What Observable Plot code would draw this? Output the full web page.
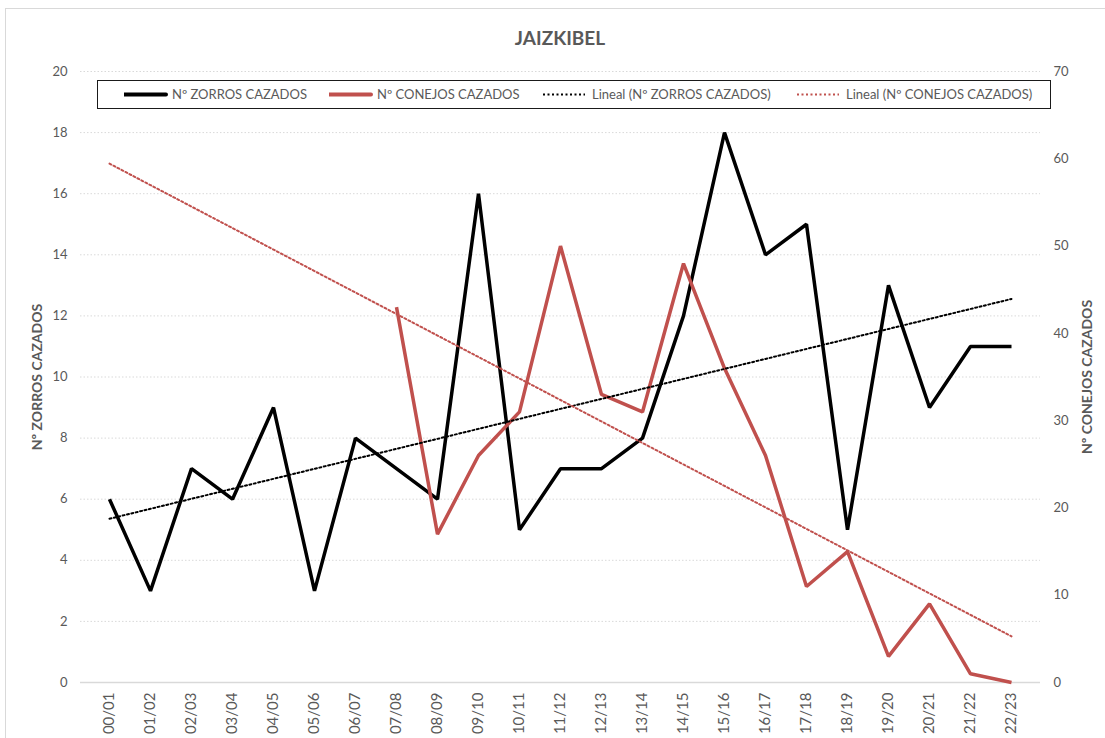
<!DOCTYPE html>
<html>
<head>
<meta charset="utf-8">
<script src="https://cdn.jsdelivr.net/npm/d3@7"></script>
<script src="https://cdn.jsdelivr.net/npm/@observablehq/plot@0.6"></script>
<style>
  html, body { margin: 0; padding: 0; background: #fff; }
  body { font-family: Lato, "Open Sans", sans-serif; color: #595959; }
  #wrap { position: relative; width: 1105px; height: 738px; overflow: hidden; }
  #border { position: absolute; left: 5px; top: 8px; width: 1300px; height: 900px;
            border-left: 1.5px solid #D9D9D9; border-top: 1.5px solid #D9D9D9; pointer-events: none; }
  #title { position: relative; height: 55px; }
  #title span { position: absolute; left: 460px; width: 200px; top: 26px; text-align: center;
                font-size: 19px; font-weight: bold; color: #595959; line-height: 24px; }
  #legend { position: absolute; left: 97px; top: 80px; width: 952px; height: 27px;
            border: 1.5px solid #1a1a1a; background: #fff; z-index: 2; }
  #legend .item { position: absolute; top: 0; height: 27px; line-height: 27px; font-size: 13px; color: #595959; white-space: nowrap; }
  #legend svg { position: absolute; top: 0; }
  #chart { position: relative; }
</style>
</head>
<body>
<div id="wrap">
  <div id="border"></div>
  <div id="title"><span>JAIZKIBEL</span></div>
  <div id="chart"></div>
  <div id="legend"></div>
</div>
<script>
// ---- data ----
const seasons = ["00/01","01/02","02/03","03/04","04/05","05/06","06/07","07/08","08/09","09/10","10/11","11/12","12/13","13/14","14/15","15/16","16/17","17/18","18/19","19/20","20/21","21/22","22/23"];
const zorros = [6,3,7,6,9,3,8,7,6,16,5,7,7,8,12,18,14,15,5,13,9,11,11];
const conejos = [null,null,null,null,null,null,null,43,17,26,31,50,33,31,48,36,26,11,15,3,9,1,0];
const leftTicks = [0,2,4,6,8,10,12,14,16,18,20];
const rightTicks = [0,10,20,30,40,50,60,70];
const seriesNames = ["Nº ZORROS CAZADOS","Nº CONEJOS CAZADOS","Lineal (Nº ZORROS CAZADOS)","Lineal (Nº CONEJOS CAZADOS)"];
const axisTitles = ["Nº ZORROS CAZADOS","Nº CONEJOS CAZADOS"];
const colors = { zorros: "#000000", conejos: "#C0504D", text: "#595959", grid: "#D9D9D9" };

const LEFT_MAX = 20, RIGHT_MAX = 70;
const k = LEFT_MAX / RIGHT_MAX;

// linear trend (least squares on category index), extended over all categories
function trend(vals) {
  const pts = vals.map((v, i) => [i, v]).filter(d => d[1] != null);
  const mx = d3.mean(pts, d => d[0]), my = d3.mean(pts, d => d[1]);
  const b = d3.sum(pts, d => (d[0] - mx) * (d[1] - my)) / d3.sum(pts, d => (d[0] - mx) ** 2);
  const a = my - b * mx;
  return seasons.map((s, i) => ({ season: s, v: a + b * i }));
}

const zData = seasons.map((s, i) => ({ season: s, v: zorros[i] }));
const cData = seasons.map((s, i) => ({ season: s, v: conejos[i] })).filter(d => d.v != null);
const zTrend = trend(zorros);
const cTrend = trend(conejos);

const font = "Lato, 'Open Sans', sans-serif";

const chart = Plot.plot({
  width: 1105,
  height: 683,
  marginTop: 16,
  marginBottom: 56,
  marginLeft: 80,
  marginRight: 65,
  style: { fontFamily: font, color: colors.text, background: "transparent", overflow: "visible" },
  x: { type: "point", domain: seasons, padding: 0.5 },
  y: { domain: [0, LEFT_MAX] },
  marks: [
    Plot.gridY(leftTicks.filter(t => t > 0), { stroke: colors.grid, strokeOpacity: 1, strokeWidth: 1, strokeDasharray: "1.5,2" }),
    Plot.ruleY([0], { stroke: colors.grid, strokeWidth: 1.3 }),
    Plot.axisY(leftTicks, { anchor: "left", tickSize: 0, tickPadding: 13, fontSize: 13, label: null, fill: colors.text }),
    Plot.axisY(rightTicks.map(v => v * k), { anchor: "right", tickSize: 0, tickPadding: 13, fontSize: 13, label: null, fill: colors.text,
      tickFormat: d => String(Math.round(d / k)) }),
    Plot.axisX({ tickRotate: -90, tickSize: 0, tickPadding: 10, fontSize: 15, label: null, fill: colors.text }),
    Plot.text([axisTitles[0]], { frameAnchor: "left", dx: -43, rotate: -90, textAnchor: "middle", fontWeight: "bold", fontSize: 14, fill: colors.text }),
    Plot.text([axisTitles[1]], { frameAnchor: "right", dx: 47, rotate: -90, textAnchor: "middle", fontWeight: "bold", fontSize: 14, fill: colors.text }),
    Plot.line(zData, { x: "season", y: "v", stroke: colors.zorros, strokeWidth: 3.5, strokeLinejoin: "miter", strokeLinecap: "butt" }),
    Plot.line(cData, { x: "season", y: d => d.v * k, stroke: colors.conejos, strokeWidth: 3.5, strokeLinejoin: "miter", strokeLinecap: "butt" }),
    Plot.line(zTrend, { x: "season", y: "v", stroke: colors.zorros, strokeWidth: 2, strokeDasharray: "2,2.5" }),
    Plot.line(cTrend, { x: "season", y: d => d.v * k, stroke: colors.conejos, strokeWidth: 2, strokeDasharray: "2,2.5" })
  ]
});
document.getElementById("chart").appendChild(chart);

// ---- legend ----
const legend = d3.select("#legend");
const legendItems = [
  { name: seriesNames[0], color: colors.zorros, dash: null, sx: 26, tx: 74 },
  { name: seriesNames[1], color: colors.conejos, dash: null, sx: 231, tx: 279 },
  { name: seriesNames[2], color: colors.zorros, dash: "2,2.5", sx: 445, tx: 494 },
  { name: seriesNames[3], color: colors.conejos, dash: "2,2.5", sx: 699, tx: 748 }
];
legendItems.forEach(it => {
  const svg = legend.append("svg").attr("width", 44).attr("height", 27).style("left", it.sx + "px");
  svg.append("line").attr("x1", 0).attr("x2", 42).attr("y1", 13.5).attr("y2", 13.5)
    .attr("stroke", it.color).attr("stroke-width", it.dash ? 2 : 4)
    .attr("stroke-dasharray", it.dash).attr("stroke-linecap", it.dash ? "butt" : "round");
  legend.append("div").attr("class", "item").style("left", it.tx + "px").text(it.name);
});
</script>
</body>
</html>
